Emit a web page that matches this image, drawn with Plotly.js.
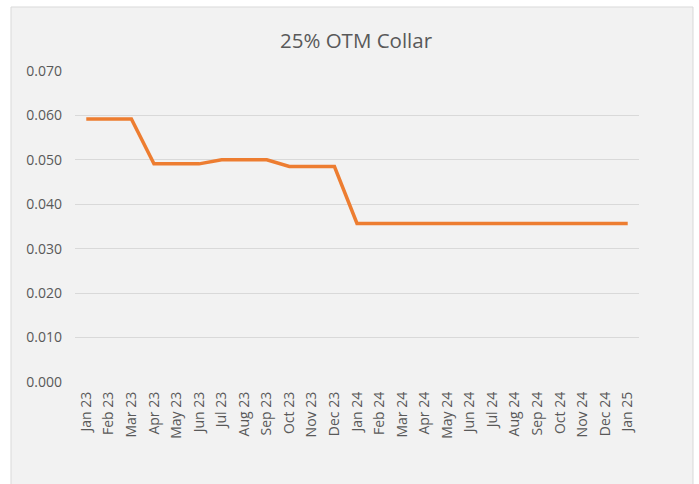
<!DOCTYPE html>
<html>
<head>
<meta charset="utf-8">
<script src="https://cdn.plot.ly/plotly-3.0.1.min.js"></script>
<style>html,body{margin:0;padding:0;background:#fff;}#chart{width:699px;height:484px;}</style>
</head>
<body>
<div id="chart"></div>
<script>
const categories = ["Jan 23","Feb 23","Mar 23","Apr 23","May 23","Jun 23","Jul 23","Aug 23","Sep 23","Oct 23","Nov 23","Dec 23",
  "Jan 24","Feb 24","Mar 24","Apr 24","May 24","Jun 24","Jul 24","Aug 24","Sep 24","Oct 24","Nov 24","Dec 24","Jan 25"];
const values = [0.0592,0.0592,0.0592,0.0491,0.0491,0.0491,0.0500,0.0500,0.0500,0.0485,0.0485,0.0485,
  0.0357,0.0357,0.0357,0.0357,0.0357,0.0357,0.0357,0.0357,0.0357,0.0357,0.0357,0.0357,0.0357];
const yTicks = [0,0.01,0.02,0.03,0.04,0.05,0.06,0.07];
const yTickText = ["0.000","0.010","0.020","0.030","0.040","0.050","0.060","0.070"];

const W = 699, H = 484, L = 75, R = 60, T = 71, B = 102;
const pw = W - L - R, ph = H - T - B;
const px = v => (v - L) / pw;
const py = v => (H - B - v) / ph;

const trace = {
  x: categories.map((c, i) => i),
  y: values,
  type: 'scatter',
  mode: 'lines',
  line: {color: '#ED7D31', width: 3.5},
  hoverinfo: 'skip'
};

const layout = {
  width: W, height: H,
  margin: {l: L, r: R, t: T, b: B},
  paper_bgcolor: '#ffffff',
  plot_bgcolor: 'rgba(0,0,0,0)',
  showlegend: false,
  font: {family: 'Open Sans, sans-serif', color: '#595959', size: 14},
  title: {text: '25% OTM Collar', font: {size: 20.5, color: '#595959', family: 'Open Sans, sans-serif'},
          x: 356 / W, xanchor: 'center', xref: 'container', y: 1 - 41 / H, yanchor: 'middle', yref: 'container'},
  xaxis: {
    range: [-0.5, categories.length - 0.5],
    tickmode: 'array', tickvals: categories.map((c, i) => i), ticktext: categories,
    tickangle: -90, showgrid: false, zeroline: false, showline: false, ticks: '',
    ticklabelstandoff: 6,
    tickfont: {size: 14, color: '#595959'}, fixedrange: true
  },
  yaxis: {
    range: [0, 0.07],
    tickmode: 'array', tickvals: yTicks, ticktext: yTickText,
    showgrid: true, gridcolor: '#d9d9d9', gridwidth: 1, zeroline: false, showline: false,
    ticks: '', ticklen: 0, ticklabelstandoff: 12, tickfont: {size: 14, color: '#595959'}, fixedrange: true
  },
  shapes: [{
    type: 'rect', layer: 'below', xref: 'paper', yref: 'paper',
    x0: px(11), x1: px(693), y0: py(490), y1: py(7),
    fillcolor: '#f2f2f2', line: {color: '#d9d9d9', width: 1}
  }]
};

Plotly.newPlot('chart', [trace], layout, {displayModeBar: false, staticPlot: true});
</script>
</body>
</html>
